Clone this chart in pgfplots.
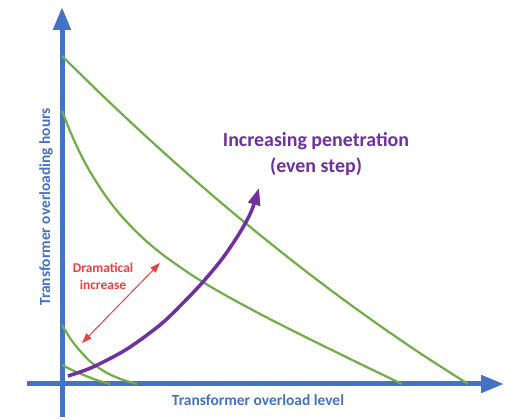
\documentclass[border=0pt]{standalone}
\usepackage{pgfplots}
\pgfplotsset{compat=1.18}
\usepackage{fontspec}
\setmainfont{Carlito}
\usetikzlibrary{arrows.meta}
\definecolor{axblue}{RGB}{68,114,196}
\definecolor{cgreen}{RGB}{112,173,71}
\definecolor{cpurple}{RGB}{112,48,160}
\definecolor{cred}{RGB}{232,64,64}
\begin{document}
\begin{tikzpicture}
\begin{axis}[
  scale only axis, width=477bp, height=410bp,
  xmin=-35, xmax=442, ymin=-33, ymax=377,
  axis lines=middle,
  axis line style={draw=axblue, line width=5bp, -{Triangle[length=23bp,width=17bp]}},
  xtick=\empty, ytick=\empty,
  clip=false,
  xlabel={Transformer overload level},
  ylabel={Transformer overloading hours},
  xlabel style={at={(axis description cs:0.4843,0.0415)}, anchor=center,
    font=\bfseries\fontsize{15.5}{18}\selectfont, text=axblue},
  ylabel style={at={(axis description cs:0.0398,0.5122)}, anchor=center, rotate=90,
    font=\bfseries\fontsize{15.5}{18}\selectfont, text=axblue},
]
\path (axis cs:-62,-33) rectangle (axis cs:449,384);
% green curves
\addplot[cgreen, line width=2.2bp, smooth] coordinates {
  (0,328) (40,288.9) (80,251.3) (120,215.2) (160,180.5) (200,147.4) (240,115.7)
  (280,85.5) (320,56.8) (360,29.5) (406,0)};
\addplot[cgreen, line width=2.2bp, smooth] coordinates {
  (0,273) (10,248.3) (20,227.1) (30,209.0) (45,186.1) (60,167.3) (80,146.8)
  (100,129.9) (130,108.8) (160,90.7) (200,69) (240,48.7) (280,29) (310,14.4) (340,0)};
\addplot[cgreen, line width=2.2bp, smooth] coordinates {
  (0,59) (10,43) (20,31) (30,21) (45,11) (60,4.5) (75,0)};
\addplot[cgreen, line width=2.2bp, smooth] coordinates {
  (0,19) (12,13) (24,8) (36,3.5) (48,0)};
% purple arrow
\addplot[cpurple, line width=3.5bp, smooth, -{Triangle[length=17bp,width=12bp]}] coordinates {
  (6,8) (31,17) (65,35) (98,59) (120,80) (140,101) (160,125) (177,150) (189,172) (197,196)};
% red double arrow
\addplot[cred, line width=1bp, {Triangle[length=10bp,width=7bp]}-{Triangle[length=10bp,width=7bp]}] coordinates {
  (20,41) (98,121)};
\node[text=cpurple, font=\bfseries\fontsize{20}{26}\selectfont, align=center] at (axis cs:254,230) {Increasing penetration\\(even step)};
\node[text=cred, font=\bfseries\fontsize{13.5}{17}\selectfont, align=center] at (axis cs:41,108) {Dramatical\\increase};
\end{axis}
\end{tikzpicture}
\end{document}
